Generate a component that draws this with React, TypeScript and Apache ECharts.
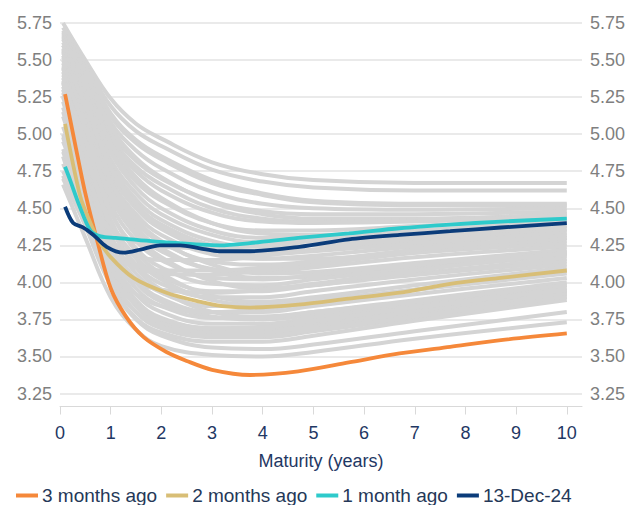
import React, { useEffect, useRef } from "react";
import * as echarts from "echarts";

// Maturities (years) at which the grey historical curves are sampled
const historicalMaturities = [0.06, 0.5, 1, 1.5, 2, 3, 4, 5, 7, 10];

// Grey historical yield curves (%), one array per curve
const historicalCurves: number[][] = [
  [5.75, 5.5, 5.24, 5.07, 4.97, 4.81, 4.73, 4.69, 4.67, 4.67],
  [5.72, 5.47, 5.19, 5.02, 4.92, 4.76, 4.68, 4.64, 4.62, 4.62],
  [5.7, 5.44, 5.12, 4.94, 4.83, 4.67, 4.59, 4.54, 4.52, 4.52],
  [5.68, 5.45, 5.14, 4.96, 4.85, 4.69, 4.6, 4.55, 4.53, 4.53],
  [5.69, 5.42, 5.08, 4.89, 4.77, 4.61, 4.53, 4.5, 4.49, 4.5],
  [5.67, 5.38, 5.02, 4.82, 4.7, 4.55, 4.48, 4.46, 4.46, 4.48],
  [5.66, 5.4, 5.05, 4.84, 4.71, 4.54, 4.46, 4.43, 4.43, 4.46],
  [5.65, 5.36, 4.99, 4.78, 4.66, 4.5, 4.43, 4.41, 4.42, 4.46],
  [5.64, 5.34, 4.96, 4.75, 4.62, 4.47, 4.41, 4.4, 4.41, 4.45],
  [5.62, 5.3, 4.9, 4.68, 4.55, 4.4, 4.35, 4.35, 4.38, 4.43],
  [5.6, 5.32, 4.94, 4.71, 4.57, 4.4, 4.33, 4.32, 4.35, 4.41],
  [5.6, 5.28, 4.88, 4.64, 4.5, 4.35, 4.3, 4.3, 4.34, 4.4],
  [5.58, 5.25, 4.83, 4.6, 4.46, 4.32, 4.27, 4.28, 4.32, 4.38],
  [5.57, 5.2, 4.76, 4.52, 4.39, 4.25, 4.21, 4.22, 4.28, 4.35],
  [5.56, 5.22, 4.8, 4.56, 4.42, 4.28, 4.24, 4.25, 4.3, 4.36],
  [5.55, 5.18, 4.74, 4.5, 4.36, 4.22, 4.19, 4.21, 4.26, 4.33],
  [5.53, 5.15, 4.7, 4.46, 4.32, 4.19, 4.16, 4.18, 4.24, 4.3],
  [5.52, 5.2, 4.78, 4.53, 4.38, 4.22, 4.16, 4.16, 4.21, 4.28],
  [5.5, 5.1, 4.64, 4.4, 4.27, 4.14, 4.12, 4.14, 4.2, 4.26],
  [5.48, 5.06, 4.58, 4.34, 4.21, 4.09, 4.07, 4.1, 4.17, 4.24],
  [5.46, 5.12, 4.68, 4.43, 4.28, 4.12, 4.06, 4.07, 4.13, 4.22],
  [5.45, 5.08, 4.62, 4.37, 4.23, 4.08, 4.03, 4.04, 4.1, 4.19],
  [5.44, 5.02, 4.53, 4.28, 4.15, 4.03, 4.02, 4.05, 4.12, 4.2],
  [5.42, 4.98, 4.48, 4.23, 4.1, 3.99, 3.98, 4.02, 4.09, 4.18],
  [5.4, 5.04, 4.58, 4.32, 4.17, 4.01, 3.96, 3.98, 4.06, 4.16],
  [5.38, 4.94, 4.42, 4.17, 4.04, 3.94, 3.94, 3.98, 4.05, 4.14],
  [5.36, 4.9, 4.38, 4.12, 3.99, 3.9, 3.9, 3.94, 4.02, 4.12],
  [5.35, 4.92, 4.42, 4.16, 4.02, 3.88, 3.85, 3.87, 3.95, 4.08],
  [5.34, 4.96, 4.48, 4.21, 4.06, 3.91, 3.87, 3.9, 3.98, 4.1],
  [5.32, 4.86, 4.32, 4.06, 3.93, 3.84, 3.84, 3.88, 3.95, 4.06],
  [5.3, 4.82, 4.28, 4.02, 3.89, 3.8, 3.8, 3.84, 3.92, 4.03],
  [5.28, 4.88, 4.38, 4.1, 3.95, 3.8, 3.77, 3.8, 3.88, 4.0],
  [5.26, 4.8, 4.26, 4.0, 3.87, 3.77, 3.75, 3.78, 3.86, 3.98],
  [5.25, 4.78, 4.22, 3.96, 3.84, 3.76, 3.76, 3.8, 3.87, 3.98],
  [5.22, 4.74, 4.18, 3.92, 3.8, 3.72, 3.72, 3.76, 3.84, 3.96],
  [5.18, 4.7, 4.14, 3.88, 3.76, 3.69, 3.69, 3.73, 3.81, 3.94],
  [5.15, 4.68, 4.12, 3.86, 3.74, 3.67, 3.67, 3.71, 3.8, 3.93],
  [5.12, 4.66, 4.1, 3.84, 3.72, 3.66, 3.66, 3.7, 3.78, 3.92],
  [5.05, 4.62, 4.06, 3.8, 3.69, 3.63, 3.63, 3.67, 3.76, 3.9],
  [4.98, 4.5, 4.02, 3.8, 3.7, 3.64, 3.64, 3.68, 3.77, 3.9],
  [4.95, 4.55, 4.0, 3.76, 3.66, 3.6, 3.6, 3.64, 3.74, 3.88],
  [4.75, 4.42, 4.05, 3.85, 3.75, 3.69, 3.7, 3.74, 3.83, 3.95],
  [4.72, 4.38, 3.98, 3.75, 3.64, 3.56, 3.55, 3.58, 3.67, 3.8],
  [4.66, 4.3, 3.9, 3.68, 3.57, 3.51, 3.5, 3.53, 3.62, 3.73],
  [4.85, 4.45, 4.2, 4.1, 4.06, 4.05, 4.08, 4.12, 4.2, 4.3],
  [4.88, 4.52, 4.24, 4.12, 4.08, 4.08, 4.1, 4.14, 4.22, 4.32],
  [4.8, 4.5, 4.28, 4.18, 4.15, 4.15, 4.18, 4.22, 4.3, 4.38],
  [4.7, 4.4, 4.12, 4.0, 3.95, 3.93, 3.95, 3.99, 4.08, 4.2],
  [4.9, 4.58, 4.36, 4.27, 4.24, 4.23, 4.25, 4.28, 4.34, 4.42],
  [5.0, 4.55, 4.1, 3.92, 3.84, 3.8, 3.82, 3.86, 3.95, 4.08],
];

// Highlighted curves
const threeMonthsMaturities = [0.1, 0.3, 0.5, 0.75, 1.0, 1.3, 1.65, 2.1, 2.5, 3.0, 3.75, 4.7, 5.7, 6.7, 7.7, 8.7, 10];
const threeMonthsValues = [5.27, 4.93, 4.6, 4.26, 3.96, 3.77, 3.63, 3.53, 3.47, 3.41, 3.375, 3.4, 3.46, 3.52, 3.565, 3.61, 3.655];

const twoMonthsMaturities = [0.1, 0.4, 0.6, 0.75, 1.0, 1.45, 2.1, 2.75, 3.2, 3.75, 4.7, 5.7, 6.7, 7.7, 8.7, 10];
const twoMonthsValues = [5.07, 4.58, 4.4, 4.29, 4.17, 4.03, 3.93, 3.87, 3.84, 3.83, 3.85, 3.89, 3.93, 3.99, 4.03, 4.08];

const oneMonthMaturities = [0.1, 0.2, 0.38, 0.6, 0.8, 1.1, 2.1, 3.15, 3.75, 4.7, 5.7, 6.7, 7.7, 8.7, 10];
const oneMonthValues = [4.78, 4.69, 4.52, 4.35, 4.31, 4.3, 4.27, 4.25, 4.265, 4.3, 4.33, 4.365, 4.39, 4.41, 4.43];

const latestMaturities = [0.1, 0.26, 0.46, 0.66, 0.92, 1.25, 1.58, 1.97, 2.37, 2.76, 3.15, 3.75, 4.73, 5.7, 6.7, 7.7, 8.7, 10];
const latestValues = [4.51, 4.4, 4.37, 4.32, 4.24, 4.2, 4.22, 4.25, 4.25, 4.23, 4.21, 4.21, 4.24, 4.29, 4.32, 4.345, 4.37, 4.4];

const seriesNames = ["3 months ago", "2 months ago", "1 month ago", "13-Dec-24"];
const seriesColors = ["#F5883A", "#D8BE76", "#2ECACB", "#0B3C7A"];

const xTickValues = [0, 1, 2, 3, 4, 5, 6, 7, 8, 9, 10];

const FONT = "'Liberation Sans', Arial, sans-serif";

export default function App() {
  const ref = useRef<HTMLDivElement>(null);

  useEffect(() => {
    if (!ref.current) return;
    const chart = echarts.init(ref.current, undefined, { renderer: "svg" });

    const pair = (ms: number[], vs: number[]) => ms.map((m, i) => [m, vs[i]]);

    const greySeries = historicalCurves.map((curve, idx) => ({
      type: "line",
      name: "hist" + idx,
      data: pair(historicalMaturities, curve),
      smooth: 0.4,
      showSymbol: false,
      symbol: "none",
      lineStyle: { color: "#D4D4D4", width: 4 },
      itemStyle: { color: "#D4D4D4" },
      silent: true,
      z: 1,
    }));

    const highlight = [
      pair(threeMonthsMaturities, threeMonthsValues),
      pair(twoMonthsMaturities, twoMonthsValues),
      pair(oneMonthMaturities, oneMonthValues),
      pair(latestMaturities, latestValues),
    ].map((data, i) => ({
      type: "line",
      name: seriesNames[i],
      data,
      smooth: 0.3,
      showSymbol: false,
      symbol: "none",
      lineStyle: { color: seriesColors[i], width: 3.8 },
      itemStyle: { color: seriesColors[i] },
      z: 3 + i,
    }));

    const yAxisBase = {
      type: "value",
      min: 3.25,
      max: 5.75,
      interval: 0.25,
      axisLine: { show: false },
      axisTick: { show: false },
      axisLabel: {
        color: "#7F7F7F",
        fontSize: 18,
        fontFamily: FONT,
        margin: 8,
        formatter: (v: number) => v.toFixed(2),
      },
    };

    chart.setOption({
      animation: false,
      grid: { left: 60, right: 57, top: 23, bottom: 111.5, containLabel: false },
      legend: {
        data: seriesNames,
        left: 16,
        top: 486,
        padding: 0,
        icon: "rect",
        itemWidth: 22,
        itemHeight: 4,
        itemGap: 9,
        textStyle: { color: "#253858", fontSize: 19, fontFamily: FONT, padding: [0, 0, 0, -1] },
      },
      xAxis: {
        type: "value",
        min: 0,
        max: 10.3,
        interval: 1,
        offset: 13,
        name: "Maturity (years)",
        nameLocation: "middle",
        nameGap: 45,
        nameTextStyle: { color: "#1F3864", fontSize: 18, fontFamily: FONT },
        axisLine: { show: true, lineStyle: { color: "#D9D9D9", width: 1 } },
        axisTick: { show: true, length: 8, lineStyle: { color: "#D9D9D9" }, customValues: xTickValues },
        axisLabel: {
          color: "#1F3864",
          fontSize: 18,
          fontFamily: FONT,
          margin: 17,
          customValues: xTickValues,
        },
        splitLine: { show: false },
      },
      yAxis: [
        {
          ...yAxisBase,
          position: "left",
          splitLine: { show: true, lineStyle: { color: "#E3E3E3", width: 1.5 } },
        },
        {
          ...yAxisBase,
          position: "right",
          splitLine: { show: false },
        },
      ],
      series: [...greySeries, ...highlight],
    });

    return () => chart.dispose();
  }, []);

  return (
    <div
      ref={ref}
      style={{ position: "fixed", left: 0, top: 0, width: 639, height: 505, background: "#fff" }}
    />
  );
}
